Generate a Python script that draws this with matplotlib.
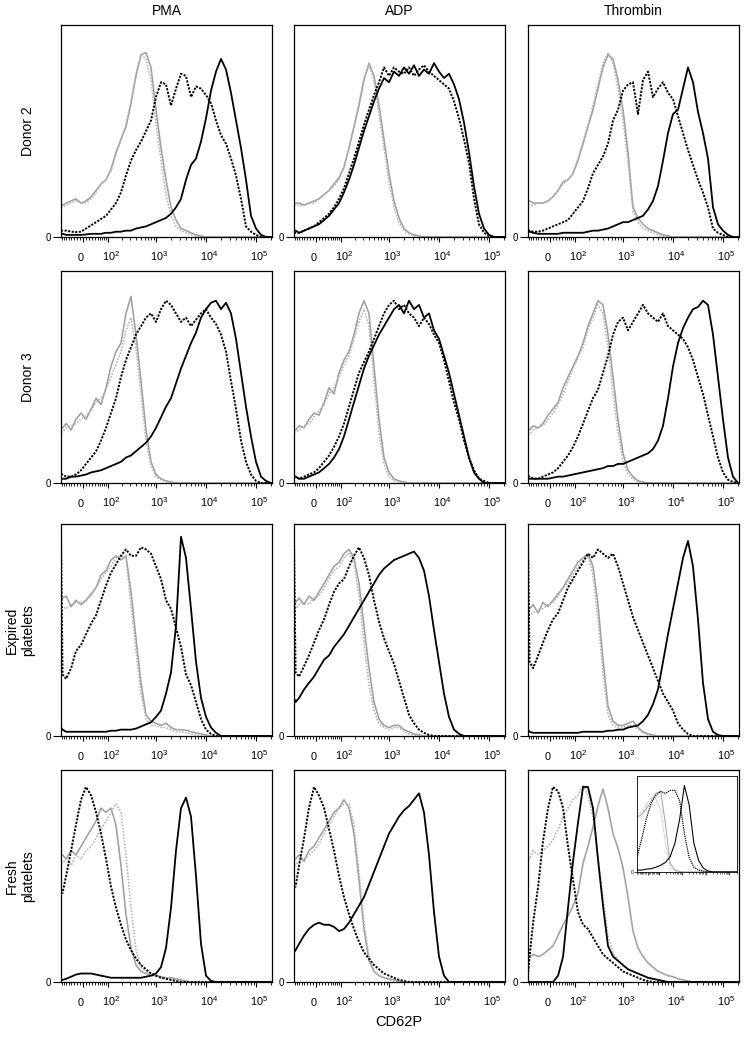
import numpy as np
import matplotlib
matplotlib.use("Agg")
import matplotlib.pyplot as plt
from matplotlib.transforms import blended_transform_factory, ScaledTranslation

plt.rcParams['font.family'] = ['Liberation Sans', 'DejaVu Sans']
plt.rcParams['mathtext.fontset'] = 'custom'
plt.rcParams['mathtext.rm'] = 'Liberation Sans'

# ---------------- data ----------------
col_titles = ['PMA', 'ADP', 'Thrombin']
row_titles = ['Donor 2', 'Donor 3', 'Expired\nplatelets', 'Fresh\nplatelets']
x_label = 'CD62P'
tick_vals = [0, 100, 1000, 10000, 100000]
tick_labels = ['0', r'$\mathregular{10^2}$', r'$\mathregular{10^3}$',
               r'$\mathregular{10^4}$', r'$\mathregular{10^5}$']
minor_vals = [-80, -70, -60, -50, -40, -30, -20, -10, 10, 20, 30, 40, 50, 60, 70, 80, 90,
              200, 300, 400, 500, 600, 700, 800, 900,
              2000, 3000, 4000, 5000, 6000, 7000, 8000, 9000,
              20000, 30000, 40000, 50000, 60000, 70000, 80000, 90000, 200000]

# CD62P channel values (fluorescence) at which histogram counts were read
channels = [-85, -77, -61, -41, -24, -7, 9, 26, 44, 64, 88, 116,
            151, 193, 246, 312, 395, 499, 629, 793, 999, 1258,
            1584, 1995, 2512, 3162, 3981, 5012, 6310, 7943, 10000, 12589,
            15849, 19953, 25119, 31623, 39811, 50119, 63096, 79433, 100000, 125893,
            158489, 199526]

# counts as % of axis height; gs = gray solid, gd = gray dotted,
# kd = black dotted, ks = black solid
d2_pma_gs = [15, 15,  16, 17, 18, 16, 17, 19, 22, 25, 27, 32,  40, 46, 52, 63, 76, 86, 87, 80, 60, 42,  27, 14, 8, 4, 3, 2, 1, 0.5, 0, 0,  0, 0, 0, 0, 0, 0, 0, 0, 0, 0,  0, 0]
d2_pma_gd = [14, 14,  15, 16, 17, 16, 16, 18, 21, 25, 27, 31,  39, 46, 53, 64, 77, 86, 84, 74, 54, 36,  20, 10, 5, 3, 2, 1, 0.5, 0, 0, 0,  0, 0, 0, 0, 0, 0, 0, 0, 0, 0,  0, 0]
d2_pma_kd = [3, 3,  3, 2.5, 2.3, 2.5, 4, 5.5, 7, 8.5, 10, 13,  16, 21, 29, 36, 41, 45, 50, 55, 66, 73,  72, 62, 70, 77, 76, 66, 71, 70, 67, 63,  55, 48, 44, 37, 29, 18, 5, 2.5, 1, 0,  0, 0]
d2_pma_ks = [1.5, 1.5,  1, 1, 1, 1, 1.2, 1.5, 1.5, 1.5, 2, 2,  2.5, 2.5, 3, 3, 4, 4.5, 5, 6, 7, 8,  9, 11, 14, 18, 27, 34, 37, 45, 56, 69,  78, 84, 79, 68, 55, 42, 27, 10, 4, 1,  0, 0]

d2_adp_gs = [16, 16,  16, 15, 16, 17, 18, 20, 22, 25, 28, 33,  42, 52, 62, 74, 82, 76, 62, 46, 30, 17,  9, 4, 2, 1, 0.5, 0, 0, 0, 0, 0,  0, 0, 0, 0, 0, 0, 0, 0, 0, 0,  0, 0]
d2_adp_gd = [15, 15,  15, 15, 16, 16, 18, 20, 22, 24, 27, 33,  42, 52, 63, 75, 81, 74, 58, 42, 26, 14,  7, 3, 1.5, 0.5, 0, 0, 0, 0, 0, 0,  0, 0, 0, 0, 0, 0, 0, 0, 0, 0,  0, 0]
d2_adp_kd = [2, 2,  2, 3, 4, 5, 7, 9, 11, 14, 18, 23,  30, 37, 45, 53, 60, 67, 73, 80, 76, 80,  78, 77, 80, 76, 79, 81, 78, 76, 74, 72,  70, 64, 56, 46, 35, 18, 6, 2, 0.5, 0,  0, 0]
d2_adp_ks = [3, 3,  2, 3, 4, 5, 6, 8, 10, 13, 16, 21,  27, 34, 42, 50, 57, 64, 70, 75, 73, 78,  76, 80, 77, 81, 76, 79, 77, 82, 78, 75,  77, 72, 65, 54, 40, 24, 11, 4, 1, 0,  0, 0]

d2_thr_gs = [17, 17,  16, 16, 16, 17, 19, 22, 26, 27, 30, 36,  44, 52, 60, 70, 80, 86, 84, 74, 60, 40,  14, 9, 6, 4, 3, 2, 1, 0.5, 0, 0,  0, 0, 0, 0, 0, 0, 0, 0, 0, 0,  0, 0]
d2_thr_gd = [15, 15,  15, 16, 16, 17, 19, 22, 25, 27, 30, 37,  45, 53, 62, 72, 82, 87, 82, 70, 55, 35,  12, 7, 4, 3, 2, 1, 0.5, 0, 0, 0,  0, 0, 0, 0, 0, 0, 0, 0, 0, 0,  0, 0]
d2_thr_kd = [3, 3,  2.5, 2.5, 3, 4, 5, 6, 7, 8, 11, 14,  17, 23, 30, 34, 38, 44, 55, 60, 69, 72,  73, 58, 74, 78, 66, 70, 73, 68, 65, 57,  49, 41, 34, 27, 21, 14, 4, 2, 1, 0,  0, 0]
d2_thr_ks = [3, 2.5,  2, 1.5, 1.5, 1.5, 1.5, 1.5, 2, 2, 2, 2,  2, 2.5, 3, 3, 3.5, 4, 5, 6, 7, 7,  8, 9, 10, 13, 17, 24, 36, 49, 58, 60,  70, 80, 73, 59, 49, 37, 14, 6, 3, 1,  0, 0]

d3_pma_gs = [26, 26,  28, 25, 30, 33, 30, 35, 40, 37, 45, 55,  62, 66, 80, 88, 70, 48, 25, 10, 4, 2,  1, 0.5, 0, 0, 0, 0, 0, 0, 0, 0,  0, 0, 0, 0, 0, 0, 0, 0, 0, 0,  0, 0]
d3_pma_gd = [24, 24,  26, 27, 28, 30, 32, 34, 38, 40, 44, 50,  56, 62, 72, 78, 64, 42, 20, 8, 3, 1.5,  0.5, 0, 0, 0, 0, 0, 0, 0, 0, 0,  0, 0, 0, 0, 0, 0, 0, 0, 0, 0,  0, 0]
d3_pma_kd = [4, 4,  3, 3, 4, 6, 9, 12, 15, 20, 26, 33,  40, 50, 58, 64, 70, 74, 78, 80, 76, 82,  86, 84, 80, 76, 78, 74, 77, 80, 82, 78,  75, 70, 62, 48, 35, 20, 10, 4, 1, 0,  0, 0]
d3_pma_ks = [2, 2,  2, 3, 3, 3.5, 4, 5, 5.5, 6, 7, 8,  9, 10, 12, 13, 15, 17, 19, 22, 26, 31,  36, 40, 47, 54, 60, 66, 71, 78, 82, 85,  86, 82, 85, 80, 68, 52, 36, 22, 10, 3,  1, 0]

d3_adp_gs = [25, 25,  27, 26, 30, 33, 32, 38, 45, 42, 52, 58,  62, 70, 80, 86, 80, 55, 30, 12, 5, 2,  1, 0.5, 0, 0, 0, 0, 0, 0, 0, 0,  0, 0, 0, 0, 0, 0, 0, 0, 0, 0,  0, 0]
d3_adp_gd = [24, 24,  25, 27, 28, 31, 34, 37, 42, 45, 50, 56,  60, 68, 76, 82, 74, 48, 24, 9, 3, 1,  0.5, 0, 0, 0, 0, 0, 0, 0, 0, 0,  0, 0, 0, 0, 0, 0, 0, 0, 0, 0,  0, 0]
d3_adp_kd = [3, 3,  2, 3, 4, 5, 7, 10, 13, 17, 22, 28,  36, 44, 52, 57, 62, 68, 74, 80, 84, 86,  82, 84, 80, 78, 74, 78, 75, 70, 66, 58,  48, 38, 30, 20, 12, 6, 2, 1, 0, 0,  0, 0]
d3_adp_ks = [3, 3,  2, 2, 3, 4, 5, 7, 9, 12, 16, 22,  30, 38, 46, 54, 60, 65, 70, 74, 78, 82,  84, 80, 86, 82, 84, 78, 80, 72, 68, 60,  52, 42, 32, 22, 12, 5, 2, 0, 0, 0,  0, 0]

d3_thr_gs = [25, 25,  27, 26, 28, 32, 35, 38, 45, 50, 55, 60,  66, 74, 80, 86, 84, 70, 50, 30, 14, 6,  3, 1, 0.5, 0, 0, 0, 0, 0, 0, 0,  0, 0, 0, 0, 0, 0, 0, 0, 0, 0,  0, 0]
d3_thr_gd = [23, 23,  25, 26, 27, 30, 33, 37, 42, 48, 54, 59,  64, 72, 78, 84, 80, 64, 42, 24, 10, 4,  2, 0.5, 0, 0, 0, 0, 0, 0, 0, 0,  0, 0, 0, 0, 0, 0, 0, 0, 0, 0,  0, 0]
d3_thr_kd = [3, 3,  2, 2, 3, 4, 5, 7, 10, 13, 17, 22,  28, 34, 40, 44, 52, 60, 70, 76, 78, 72,  76, 80, 84, 80, 78, 76, 80, 74, 72, 70,  68, 64, 58, 50, 42, 32, 22, 12, 5, 1.5,  0.5, 0]
d3_thr_ks = [2, 2,  2, 2, 2, 2, 2.5, 3, 3, 3.5, 4, 4.5,  5, 5.5, 6, 6.5, 7, 8, 8, 9, 9, 10,  11, 12, 13, 14, 16, 20, 27, 40, 55, 66,  73, 78, 82, 83, 86, 84, 70, 50, 30, 12,  3, 0]

ex_pma_gs = [65, 65,  66, 61, 64, 62, 64, 67, 70, 76, 78, 83,  85, 83, 85, 68, 46, 25, 10, 7, 6, 5,  6, 4, 3, 3, 2.7, 2, 1.5, 1, 0.5, 0,  0, 0, 0, 0, 0, 0, 0, 0, 0, 0,  0, 0]
ex_pma_gd = [61, 61,  60, 62, 63, 63, 64, 66, 70, 74, 77, 80,  84, 85, 84, 62, 40, 20, 8, 5, 5, 4,  4, 3, 2, 2, 1.5, 1, 0.5, 0, 0, 0,  0, 0, 0, 0, 0, 0, 0, 0, 0, 0,  0, 0]
ex_pma_kd = [97, 29,  27, 32, 40, 43, 48, 53, 57, 64, 71, 77,  81, 85, 88, 85, 85, 89, 88, 86, 80, 74,  64, 60, 51, 42, 29, 24, 16, 8, 3, 1,  0, 0, 0, 0, 0, 0, 0, 0, 0, 0,  0, 0]
ex_pma_ks = [4, 3,  2, 2, 2, 2, 2, 2, 2, 2, 2, 2.5,  2.5, 3, 3, 3, 3.5, 4.5, 5.5, 6.5, 9, 12,  20, 30, 52, 94, 84, 60, 35, 18, 9, 4,  1.5, 0, 0, 0, 0, 0, 0, 0, 0, 0,  0, 0]

ex_adp_gs = [63, 63,  65, 62, 66, 64, 68, 72, 76, 80, 82, 86,  88, 84, 72, 52, 32, 16, 8, 5, 4, 5,  5, 3, 2, 1, 0.5, 0, 0, 0, 0, 0,  0, 0, 0, 0, 0, 0, 0, 0, 0, 0,  0, 0]
ex_adp_gd = [60, 60,  62, 63, 62, 65, 66, 70, 74, 78, 80, 84,  86, 82, 66, 44, 24, 12, 6, 4, 3, 4,  4, 2, 1, 0.5, 0, 0, 0, 0, 0, 0,  0, 0, 0, 0, 0, 0, 0, 0, 0, 0,  0, 0]
ex_adp_kd = [95, 30,  28, 33, 38, 44, 50, 55, 62, 68, 72, 74,  80, 85, 89, 84, 76, 64, 54, 46, 40, 34,  26, 18, 10, 6, 3, 1.5, 0.5, 0, 0, 0,  0, 0, 0, 0, 0, 0, 0, 0, 0, 0,  0, 0]
ex_adp_ks = [18, 16,  18, 22, 25, 28, 32, 36, 38, 42, 45, 48,  52, 56, 60, 64, 68, 72, 76, 79, 81, 83,  84, 85, 86, 87, 84, 78, 66, 50, 35, 20,  9, 3, 1, 0, 0, 0, 0, 0, 0, 0,  0, 0]

ex_thr_gs = [60, 60,  62, 58, 63, 61, 64, 67, 70, 74, 78, 82,  84, 86, 80, 62, 36, 14, 7, 5, 5, 6,  7, 4, 2, 1, 0.5, 0, 0, 0, 0, 0,  0, 0, 0, 0, 0, 0, 0, 0, 0, 0,  0, 0]
ex_thr_gd = [57, 57,  58, 60, 60, 62, 63, 66, 70, 72, 76, 80,  83, 85, 76, 55, 30, 10, 5, 4, 4, 5,  5, 3, 1.5, 0.5, 0, 0, 0, 0, 0, 0,  0, 0, 0, 0, 0, 0, 0, 0, 0, 0,  0, 0]
ex_thr_kd = [95, 35,  32, 38, 44, 50, 55, 58, 64, 70, 74, 78,  82, 86, 84, 88, 86, 84, 86, 80, 72, 64,  56, 50, 44, 38, 32, 26, 20, 16, 12, 6,  3, 1, 0, 0, 0, 0, 0, 0, 0, 0,  0, 0]
ex_thr_ks = [3, 2,  1.5, 1.5, 1.5, 1.5, 1.5, 1.5, 1.5, 1.5, 1.5, 1.5,  2, 2, 2, 2, 2, 2.5, 2.5, 3, 3, 4,  4.5, 5, 7, 10, 15, 22, 35, 48, 60, 72,  84, 92, 80, 55, 25, 8, 2, 0.5, 0, 0,  0, 0]

fr_pma_gs = [60, 60,  58, 62, 60, 64, 68, 72, 76, 82, 80, 82,  74, 55, 32, 16, 8, 5, 4, 3, 3, 2.5,  2, 2, 1.5, 1, 0.5, 0, 0, 0, 0, 0,  0, 0, 0, 0, 0, 0, 0, 0, 0, 0,  0, 0]
fr_pma_gd = [56, 56,  58, 55, 60, 58, 62, 64, 68, 72, 76, 80,  84, 80, 60, 35, 15, 7, 5, 4, 3, 2,  2, 1.5, 1, 0.5, 0, 0, 0, 0, 0, 0,  0, 0, 0, 0, 0, 0, 0, 0, 0, 0,  0, 0]
fr_pma_kd = [42, 42,  50, 62, 74, 86, 92, 88, 80, 70, 58, 45,  35, 27, 20, 15, 11, 8, 6, 4, 3, 2,  1.5, 1, 0.5, 0, 0, 0, 0, 0, 0, 0,  0, 0, 0, 0, 0, 0, 0, 0, 0, 0,  0, 0]
fr_pma_ks = [1, 1,  1.5, 2.5, 3.5, 4, 4, 4, 3.5, 3, 2.5, 2,  2, 2, 2, 2, 2, 2, 2.5, 3, 4, 7,  16, 35, 62, 82, 87, 78, 50, 18, 3, 0.5,  0, 0, 0, 0, 0, 0, 0, 0, 0, 0,  0, 0]

fr_adp_gs = [58, 58,  60, 57, 62, 64, 68, 72, 76, 80, 82, 86,  82, 70, 48, 25, 10, 5, 3, 2, 1.5, 1,  0.5, 0, 0, 0, 0, 0, 0, 0, 0, 0,  0, 0, 0, 0, 0, 0, 0, 0, 0, 0,  0, 0]
fr_adp_gd = [55, 55,  57, 58, 60, 62, 65, 70, 74, 78, 82, 84,  84, 74, 52, 28, 12, 5, 3, 2, 1, 0.5,  0, 0, 0, 0, 0, 0, 0, 0, 0, 0,  0, 0, 0, 0, 0, 0, 0, 0, 0, 0,  0, 0]
fr_adp_kd = [45, 45,  55, 68, 82, 92, 88, 82, 72, 62, 50, 40,  32, 25, 19, 14, 11, 8, 6, 4, 3, 2,  1, 0.5, 0, 0, 0, 0, 0, 0, 0, 0,  0, 0, 0, 0, 0, 0, 0, 0, 0, 0,  0, 0]
fr_adp_ks = [14, 15,  18, 22, 25, 27, 28, 27, 27, 26, 24, 25,  28, 32, 36, 40, 46, 52, 58, 64, 70, 74,  78, 81, 83, 86, 89, 80, 60, 33, 12, 3,  0, 0, 0, 0, 0, 0, 0, 0, 0, 0,  0, 0]

fr_thr_gs = [12, 12,  13, 12, 13, 15, 17, 22, 27, 31, 36, 42,  56, 64, 73, 83, 91, 82, 70, 63, 54, 40,  24, 16, 12, 9, 7, 5, 4, 3, 2.5, 1.5,  1, 0.5, 0, 0, 0, 0, 0, 0, 0, 0,  0, 0]
fr_thr_gd = [58, 58,  62, 60, 62, 64, 67, 72, 78, 82, 86, 88,  93, 88, 78, 58, 40, 22, 14, 10, 8, 6,  5, 4, 3, 2, 1.5, 1, 0.5, 0, 0, 0,  0, 0, 0, 0, 0, 0, 0, 0, 0, 0,  0, 0]
fr_thr_kd = [3, 12,  28, 45, 66, 82, 92, 90, 82, 64, 48, 33,  27, 25, 21, 17, 13, 11, 9, 7, 5, 4,  3, 2, 1, 0.5, 0, 0, 0, 0, 0, 0,  0, 0, 0, 0, 0, 0, 0, 0, 0, 0,  0, 0]
fr_thr_ks = [0, 0,  0, 0, 0, 0, 0, 3, 12, 35, 57, 75,  92, 92, 82, 58, 36, 17, 12, 10, 8, 6,  5, 4, 3, 2, 1.5, 1, 0.5, 0, 0, 0,  0, 0, 0, 0, 0, 0, 0, 0, 0, 0,  0, 0]

# inset (Fresh platelets / Thrombin panel)
inset_channels = [-85, -41, -7, 26, 64, 116, 193, 312, 499, 793, 1258,
                  1995, 3162, 5012, 7943, 12589, 19953, 31623, 50119, 79433, 125893, 199526]
ins_gs = [57, 60, 66, 74, 82, 84, 50, 9, 2, 0.5, 0, 0, 0, 0, 0, 0, 0, 0, 0, 0, 0, 0]
ins_gd = [60, 63, 70, 78, 76, 65, 30, 5, 1, 0, 0, 0, 0, 0, 0, 0, 0, 0, 0, 0, 0, 0]
ins_kd = [15, 35, 56, 72, 80, 84, 82, 85, 85, 74, 40, 15, 5, 2, 1, 0, 0, 0, 0, 0, 0, 0]
ins_ks = [2, 2, 3, 3.5, 5, 7, 10, 16, 30, 55, 90, 70, 30, 12, 4, 1, 0, 0, 0, 0, 0, 0]

panel_data = [
    [(d2_pma_gs, d2_pma_gd, d2_pma_kd, d2_pma_ks), (d2_adp_gs, d2_adp_gd, d2_adp_kd, d2_adp_ks), (d2_thr_gs, d2_thr_gd, d2_thr_kd, d2_thr_ks)],
    [(d3_pma_gs, d3_pma_gd, d3_pma_kd, d3_pma_ks), (d3_adp_gs, d3_adp_gd, d3_adp_kd, d3_adp_ks), (d3_thr_gs, d3_thr_gd, d3_thr_kd, d3_thr_ks)],
    [(ex_pma_gs, ex_pma_gd, ex_pma_kd, ex_pma_ks), (ex_adp_gs, ex_adp_gd, ex_adp_kd, ex_adp_ks), (ex_thr_gs, ex_thr_gd, ex_thr_kd, ex_thr_ks)],
    [(fr_pma_gs, fr_pma_gd, fr_pma_kd, fr_pma_ks), (fr_adp_gs, fr_adp_gd, fr_adp_kd, fr_adp_ks), (fr_thr_gs, fr_thr_gd, fr_thr_kd, fr_thr_ks)],
]

# ---------------- biexponential-like scale ----------------
B = 35.0
def fwd(x):
    x = np.asarray(x, float)
    return np.log10((x + np.sqrt(x * x + 4 * B * B)) / 2.0)
def inv(p):
    y = 10.0 ** np.asarray(p, float)
    return y - B * B / y

XMIN, XMAX = inv(1.1), inv(5.32)

W, H = 745, 1042
fig = plt.figure(figsize=(W / 100, H / 100), dpi=100)

col_left = [61, 294, 528]
row_top = [25, 271, 524, 770]
pw, ph = 211, 212

styles = [
    dict(color='#a0a0a0', lw=1.15, ls='-'),
    dict(color='#b2b2b2', lw=1.15, ls=(0, (1, 1))),
    dict(color='black', lw=1.4, ls=(0, (1.1, 0.75))),
    dict(color='black', lw=1.3, ls='-'),
]

def setup_axes(ax, small=False):
    ax.set_xscale('function', functions=(fwd, inv))
    ax.set_xlim(XMIN, XMAX)
    ax.set_ylim(0, 100)
    for s in ax.spines.values():
        s.set_linewidth(0.6 if small else 0.9)
    ax.set_xticks(tick_vals)
    ax.set_xticks(minor_vals, minor=True)
    ax.tick_params(axis='x', which='major', direction='out',
                   length=2 if small else 3.8, width=0.5 if small else 0.8, labelbottom=False)
    ax.tick_params(axis='x', which='minor', direction='out',
                   length=1.2 if small else 2.4, width=0.4 if small else 0.6)
    ax.set_yticks([0])
    ax.set_yticklabels(['0'])
    ax.tick_params(axis='y', which='major', direction='out',
                   length=2 if small else 5.5, width=0.5 if small else 0.8,
                   pad=0.8 if small else 1.5, labelsize=3.5 if small else 7)
    ax.yaxis.set_minor_locator(matplotlib.ticker.NullLocator())

for r in range(4):
    for c in range(3):
        rect = [col_left[c] / W, 1 - (row_top[r] + ph) / H, pw / W, ph / H]
        ax = fig.add_axes(rect)
        setup_axes(ax)
        for vals, st in zip(panel_data[r][c], styles):
            ax.plot(channels, vals, solid_joinstyle='round', **st)
        trans = blended_transform_factory(ax.transData, ax.transAxes)
        for v, lab in zip(tick_vals, tick_labels):
            dx = -3 if lab == '0' else 3
            ax.text(v, 0, lab, fontsize=7.8, ha='center', va='baseline',
                    transform=trans + ScaledTranslation(dx / 100, -24 / 100, fig.dpi_scale_trans))
        if r == 0:
            ax.set_title(col_titles[c], fontsize=10, pad=7)
        if c == 0:
            xlab = 28 if '\n' not in row_titles[r] else 20
            fig.text(xlab / W, 1 - (row_top[r] + ph / 2) / H, row_titles[r], rotation=90,
                     ha='center', va='center', fontsize=10, linespacing=1.2)

# inset
iax = fig.add_axes([637 / W, 1 - 872 / H, 100 / W, 96 / H])
setup_axes(iax, small=True)
for vals, st in zip((ins_gs, ins_gd, ins_kd, ins_ks), styles):
    st2 = dict(st)
    st2['lw'] = st['lw'] * 0.6
    iax.plot(inset_channels, vals, **st2)

fig.text(399 / W, 1 - 1022 / H, x_label, ha='center', va='center', fontsize=10.5)

fig.savefig('out.png', dpi=100)
